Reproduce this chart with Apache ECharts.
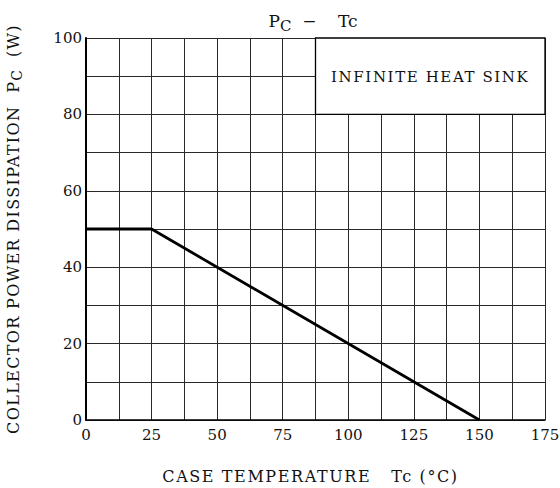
<!DOCTYPE html>
<html><head><meta charset="utf-8">
<script src="https://cdn.jsdelivr.net/npm/echarts@6/dist/echarts.min.js"></script>
<style>
html,body{margin:0;padding:0;background:#fff}#c{width:560px;height:488px}
text[style*="lsA"]{letter-spacing:1.6px}
text[style*="lsB"]{letter-spacing:1.35px}
</style>
</head><body><div id="c"></div>
<script>
const tc = [0, 25, 150];
const pc = [50, 50, 0];
const xTicks = [0, 25, 50, 75, 100, 125, 150, 175];
const yTicks = [0, 20, 40, 60, 80, 100];
const legendBox = [[87.5, 80], [175, 100]];
const legendText = 'INFINITE HEAT SINK';
const xName = 'CASE TEMPERATURE   Tc (°C)';
const yNameMain = 'COLLECTOR POWER DISSIPATION  P';
const yNameSub = 'C';
const yNameUnit = '  (W)';

const F = 'DejaVu Serif';
const FA = F + ', lsA';   // letter-spaced
const FB = F + ', lsB';   // letter-spaced
const mctx = document.createElement('canvas').getContext('2d');
function spacedW(t, size, sp) {
  mctx.font = size + 'px ' + F;
  return mctx.measureText(t).width + t.length * sp;
}

const chart = echarts.init(document.getElementById('c'), null, { renderer: 'svg' });
chart.setOption({
  backgroundColor: '#fff',
  animation: false,
  textStyle: { fontFamily: F },
  title: {
    text: '{a|P}{s|C}{a|  −    Tc}',
    left: 308, top: 4, textAlign: 'center',
    textStyle: { fontWeight: 'normal', fontFamily: F, rich: {
      a: { fontFamily: F, fontSize: 17, color: '#111', fontWeight: 'normal' },
      s: { fontFamily: F, fontSize: 15, color: '#111', fontWeight: 'normal', verticalAlign: 'bottom', padding: [9, 0, 0, 0] }
    } }
  },
  grid: { left: 86, right: 15, top: 38, bottom: 68, outerBoundsMode: 'none', containLabel: false },
  xAxis: {
    type: 'value', min: 0, max: 175, interval: 12.5,
    name: xName, nameLocation: 'middle', nameGap: 48,
    nameTextStyle: { fontFamily: FA, fontSize: 16, color: '#111', padding: [0, 10, 0, 0] },
    axisLine: { show: true, lineStyle: { color: '#000', width: 1.5 } },
    axisTick: { show: false },
    axisLabel: { fontFamily: F, fontSize: 15, color: '#111', margin: 7,
      formatter: v => xTicks.includes(v) ? String(v) : '' },
    splitLine: { show: true, lineStyle: { color: '#2a2a2a', width: 1 } }
  },
  yAxis: {
    type: 'value', min: 0, max: 100, interval: 10,
    name: '{a|' + yNameMain + '}{s|' + yNameSub + '}{b|' + yNameUnit + '}',
    nameLocation: 'middle', nameGap: 62,
    nameTextStyle: { fontFamily: F, rich: {
      a: { fontFamily: FB, fontSize: 16, color: '#111', width: spacedW(yNameMain, 16, 1.35) },
      s: { fontFamily: F, fontSize: 14, color: '#111', verticalAlign: 'bottom', padding: [8, 0, 0, 0] },
      b: { fontFamily: FB, fontSize: 16, color: '#111', width: spacedW(yNameUnit, 16, 1.35) }
    } },
    axisLine: { show: true, lineStyle: { color: '#000', width: 2 } },
    axisTick: { show: false },
    axisLabel: { fontFamily: F, fontSize: 15, color: '#111', margin: 4,
      formatter: v => yTicks.includes(v) ? String(v) : '' },
    splitLine: { show: true, lineStyle: { color: '#2a2a2a', width: 1 } }
  },
  series: [{
    type: 'line',
    data: tc.map((t, i) => [t, pc[i]]),
    symbol: 'none',
    lineStyle: { color: '#000', width: 2.8 },
    markArea: {
      silent: true,
      itemStyle: { color: '#fff', borderColor: '#000', borderWidth: 1.3 },
      label: { show: true, position: 'inside', formatter: legendText,
        fontFamily: FA, fontSize: 15, color: '#111', offset: [0, 1] },
      data: [[{ coord: legendBox[0] }, { coord: legendBox[1] }]]
    }
  }]
});
</script></body></html>
